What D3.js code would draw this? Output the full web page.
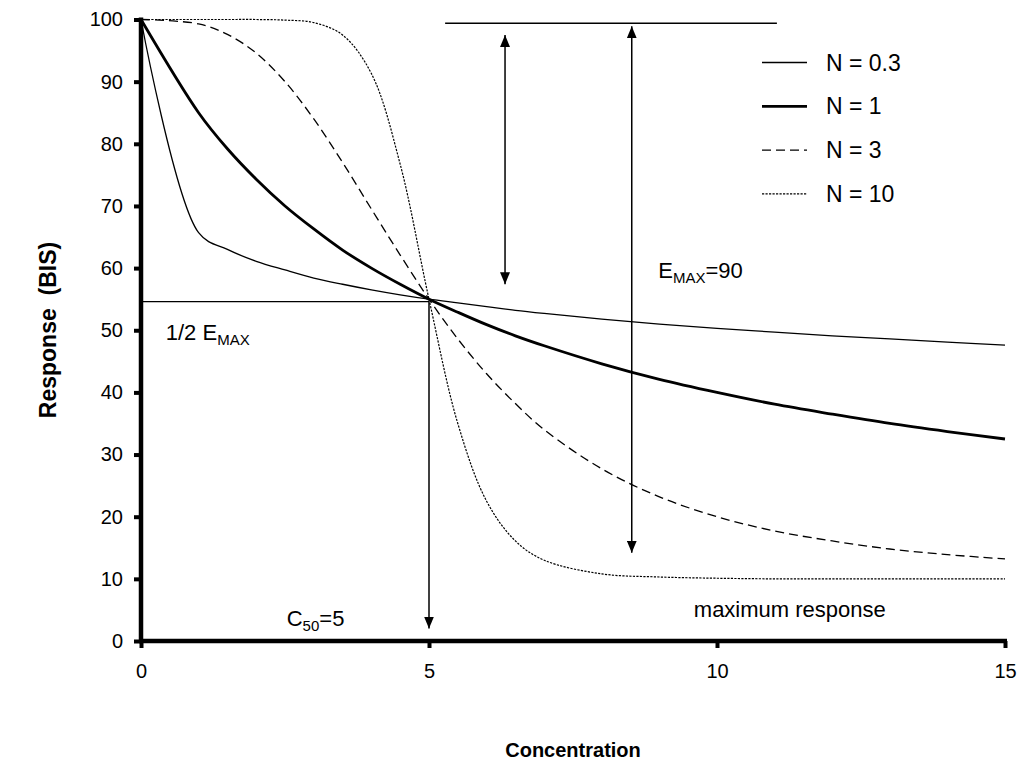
<!DOCTYPE html>
<html><head><meta charset="utf-8">
<script src="https://cdn.jsdelivr.net/npm/d3@7"></script>
<style>body{margin:0;background:#fff}</style>
</head><body>
<svg id="chart" width="1033" height="765"></svg>
<script>
// ---- data ----
const concentration = [0, 1, 1.5, 2, 2.5, 3, 3.5, 4, 4.5, 5, 5.5, 6, 6.5, 7, 8, 9, 10, 11, 12, 13, 14, 15];
const responseN03 = [100, 65.7, 63.0, 61.1, 59.7, 58.4, 57.4, 56.5, 55.7, 55.0, 54.4, 53.8, 53.2, 52.7, 51.8, 51.0, 50.3, 49.7, 49.1, 48.6, 48.1, 47.6];
const responseN1  = [100, 85.0, 79.2, 74.3, 70.0, 66.3, 62.9, 60.0, 57.4, 55.0, 52.9, 50.9, 49.1, 47.5, 44.6, 42.1, 40.0, 38.1, 36.5, 35.0, 33.7, 32.5];
const responseN3  = [100, 99.3, 97.6, 94.6, 90.0, 84.0, 77.0, 69.5, 62.1, 55.0, 48.6, 43.0, 38.2, 34.0, 27.7, 23.2, 20.0, 17.7, 16.1, 14.8, 13.9, 13.2];
const responseN10 = [100, 100, 100, 100, 99.9, 99.5, 97.5, 91.3, 76.7, 55.0, 35.0, 22.5, 16.1, 13.0, 10.8, 10.3, 10.1, 10.0, 10.0, 10.0, 10.0, 10.0];
const seriesLabels = ["N = 0.3", "N = 1", "N = 3", "N = 10"];
const xTickValues = [0, 5, 10, 15];
const yTickValues = [0, 10, 20, 30, 40, 50, 60, 70, 80, 90, 100];

// annotation values (data units)
const halfEmaxLevel = 54.6;
const c50Value = 5;
const c50ArrowTip = 2;
const emaxTopLine = [5.28, 11.04, 99.4];      // x0, x1, level
const shortArrow = [6.32, 97.5, 57.4];        // x, top, bottom
const emaxArrow = [8.52, 98.9, 14.2];         // x, top, bottom

// ---- layout ----
const svg = d3.select("#chart");
const font = "'Liberation Sans', Arial, Helvetica, sans-serif";
const x = d3.scaleLinear().domain([0, 15]).range([141, 1005]);
const y = d3.scaleLinear().domain([0, 100]).range([641, 19.5]);

const styles = [
  {w: 1.3, dash: null},
  {w: 2.8, dash: null},
  {w: 1.3, dash: "9,5"},
  {w: 1.2, dash: "2.2,1.3"}
];
const series = [responseN03, responseN1, responseN3, responseN10];

// arrow marker
const defs = svg.append("defs");
defs.append("marker").attr("id", "ah").attr("markerUnits", "userSpaceOnUse")
  .attr("viewBox", "0 0 12 10").attr("refX", 12).attr("refY", 5)
  .attr("markerWidth", 12).attr("markerHeight", 10).attr("orient", "auto-start-reverse")
  .append("path").attr("d", "M0,0 L12,5 L0,10 Z").attr("fill", "#000");

// curves
const line = d3.line().x((d, i) => x(concentration[i])).y(d => y(d)).curve(d3.curveCatmullRom.alpha(0.5));
series.forEach((s, k) => {
  svg.append("path").datum(s).attr("d", line).attr("fill", "none").attr("stroke", "#000")
    .attr("stroke-width", styles[k].w).attr("stroke-dasharray", styles[k].dash);
});

// annotation lines
svg.append("line").attr("x1", x(0)).attr("x2", x(c50Value)).attr("y1", y(halfEmaxLevel)).attr("y2", y(halfEmaxLevel))
  .attr("stroke", "#000").attr("stroke-width", 1.3);
svg.append("line").attr("x1", x(c50Value)).attr("x2", x(c50Value)).attr("y1", y(halfEmaxLevel)).attr("y2", y(c50ArrowTip))
  .attr("stroke", "#000").attr("stroke-width", 1.5).attr("marker-end", "url(#ah)");
svg.append("line").attr("x1", x(emaxTopLine[0])).attr("x2", x(emaxTopLine[1])).attr("y1", y(emaxTopLine[2])).attr("y2", y(emaxTopLine[2]))
  .attr("stroke", "#000").attr("stroke-width", 1.5);
[shortArrow, emaxArrow].forEach(a => {
  svg.append("line").attr("x1", x(a[0])).attr("x2", x(a[0])).attr("y1", y(a[1])).attr("y2", y(a[2]))
    .attr("stroke", "#000").attr("stroke-width", 1.5)
    .attr("marker-start", "url(#ah)").attr("marker-end", "url(#ah)");
});

// axes
const xAxis = svg.append("g").attr("transform", `translate(0,${y(0)})`)
  .call(d3.axisBottom(x).tickValues(xTickValues).tickSize(7).tickSizeOuter(0).tickPadding(16));
const yAxis = svg.append("g").attr("transform", `translate(${x(0)},0)`)
  .call(d3.axisLeft(y).tickValues(yTickValues).tickSize(7).tickSizeOuter(0).tickPadding(11));
[xAxis, yAxis].forEach(g => {
  g.select(".domain").attr("stroke", "#000").attr("stroke-width", 4.5);
  g.selectAll(".tick line").attr("stroke", "#000").attr("stroke-width", 4);
  g.selectAll(".tick text").attr("font-family", font).attr("font-size", 20).attr("fill", "#000");
});
xAxis.select(".domain").attr("d", `M${x(0) - 2},0H${x(15) + 2}`);
yAxis.select(".domain").attr("d", `M0,${y(100) - 2}V${y(0) + 2}`);

// axis titles
svg.append("text").attr("x", (x(0) + x(15)) / 2).attr("y", 757).attr("text-anchor", "middle")
  .attr("font-family", font).attr("font-size", 20).attr("font-weight", "bold").text("Concentration");
svg.append("text").attr("transform", "translate(56,330) rotate(-90)").attr("text-anchor", "middle")
  .style("white-space", "pre").attr("font-family", font).attr("font-size", 23).attr("font-weight", "bold")
  .text("Response  (BIS)");

// annotation text
function subText(px, py, main, sub, tail, anchor) {
  const t = svg.append("text").attr("x", px).attr("y", py).attr("font-family", font)
    .attr("font-size", 22).attr("fill", "#000").attr("text-anchor", anchor || "start");
  t.append("tspan").text(main);
  if (sub) {
    t.append("tspan").attr("font-size", 15).attr("dy", 5).text(sub);
    if (tail) t.append("tspan").attr("dy", -5).text(tail);
  }
  return t;
}
subText(x(0.43), y(48.4), "1/2 E", "MAX");
subText(x(2.53), y(2.4), "C", "50", "=5");
subText(x(8.98), y(58.4), "E", "MAX", "=90");
subText(x(12.93), y(3.9), "maximum response", null, null, "end");

// legend
const lg = svg.append("g");
seriesLabels.forEach((lab, k) => {
  const ly = 62.5 + k * 43.8;
  lg.append("line").attr("x1", 762).attr("x2", 807).attr("y1", ly).attr("y2", ly)
    .attr("stroke", "#000").attr("stroke-width", styles[k].w).attr("stroke-dasharray", styles[k].dash);
  lg.append("text").attr("x", 826).attr("y", ly + 8).attr("font-family", font).attr("font-size", 23)
    .attr("fill", "#000").text(lab);
});
</script>
</body></html>
